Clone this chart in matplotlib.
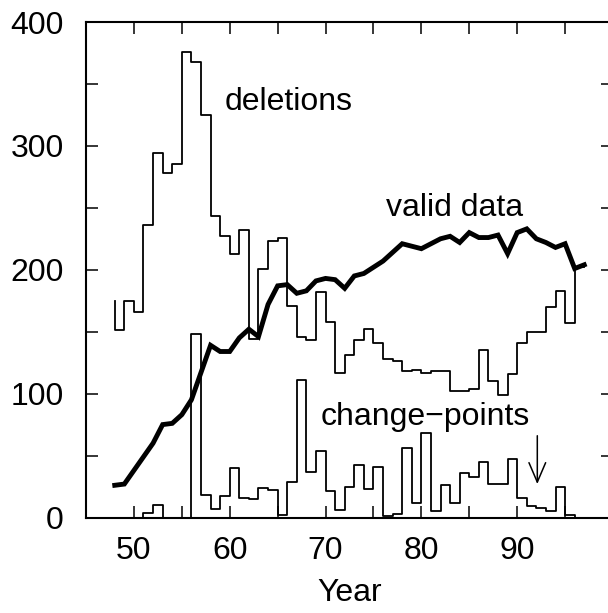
import numpy as np
import matplotlib
matplotlib.use("Agg")
import matplotlib.pyplot as plt

plt.rcParams['font.family'] = ['Liberation Sans', 'DejaVu Sans']

# yearly counts, 1948-1997 (two-digit years on the axis)
years = np.arange(48, 98)

deletions = [175, 151, 175, 166, 236, 294, 278, 285, 376, 368,
             325, 243, 227, 213, 232, 144, 201, 223, 226, 171,
             146, 143, 182, 158, 117, 131, 143, 152, 141, 128,
             126, 118, 119, 117, 118, 118, 102, 102, 104, 135,
             110, 99, 116, 141, 150, 150, 170, 183, 157, 202]

valid_data = [26, 27, 38, 49, 60, 75, 76, 83, 95, 117,
              139, 134, 134, 145, 152, 146, 172, 187, 188, 181,
              183, 191, 193, 192, 185, 195, 197, 202, 207, 214,
              221, 219, 217, 221, 225, 227, 222, 230, 226, 226,
              228, 213, 230, 233, 225, 222, 218, 221, 201, 204]

change_points = [0, 0, 0, 0, 4, 10, 0, 0, 0, 148,
                 18, 7, 17, 40, 16, 15, 24, 22, 2, 29,
                 111, 37, 54, 21, 6, 25, 42, 23, 41, 1,
                 3, 56, 12, 68, 5, 26, 12, 36, 33, 45,
                 27, 27, 47, 16, 9, 8, 5, 25, 2, 0]

fig = plt.figure(figsize=(6.08, 6.13), dpi=100)
ax = fig.add_axes([86 / 608, 1 - 517.5 / 613, 527 / 608, 495.5 / 613])

ax.step(years, deletions, where='pre', color='black', lw=1.3)
ax.step(years, change_points, where='pre', color='black', lw=1.3)
ax.plot(years, valid_data, color='black', lw=3.5, solid_joinstyle='miter')

ax.set_xlim(45, 100)
ax.set_ylim(0, 400)

xt = np.arange(50, 100, 5)
ax.set_xticks(xt)
ax.set_xticklabels([str(t) if t % 10 == 0 else '' for t in xt])
yt = np.arange(0, 401, 50)
ax.set_yticks(yt)
ax.set_yticklabels([str(t) if t % 100 == 0 else '' for t in yt])

ax.tick_params(direction='in', length=8.5, width=1.1, labelsize=23,
               top=True, right=True)
ax.tick_params(axis='x', pad=13)
ax.tick_params(axis='y', pad=16)
for s in ax.spines.values():
    s.set_linewidth(1.5)

ax.set_xlabel('Year', fontsize=23, labelpad=9)

ax.text(59.5, 329, 'deletions', fontsize=23, va='baseline')
ax.text(76.3, 243, 'valid data', fontsize=23, va='baseline')
ax.text(69.5, 75, 'change\u2212points', fontsize=23, va='baseline')

ax.annotate('', xy=(92.1, 27), xytext=(92.1, 66),
            arrowprops=dict(arrowstyle='->,head_length=0.7,head_width=0.3',
                            color='black', lw=1.1, mutation_scale=20,
                            shrinkA=0, shrinkB=0))

fig.savefig('out.png', dpi=100)
